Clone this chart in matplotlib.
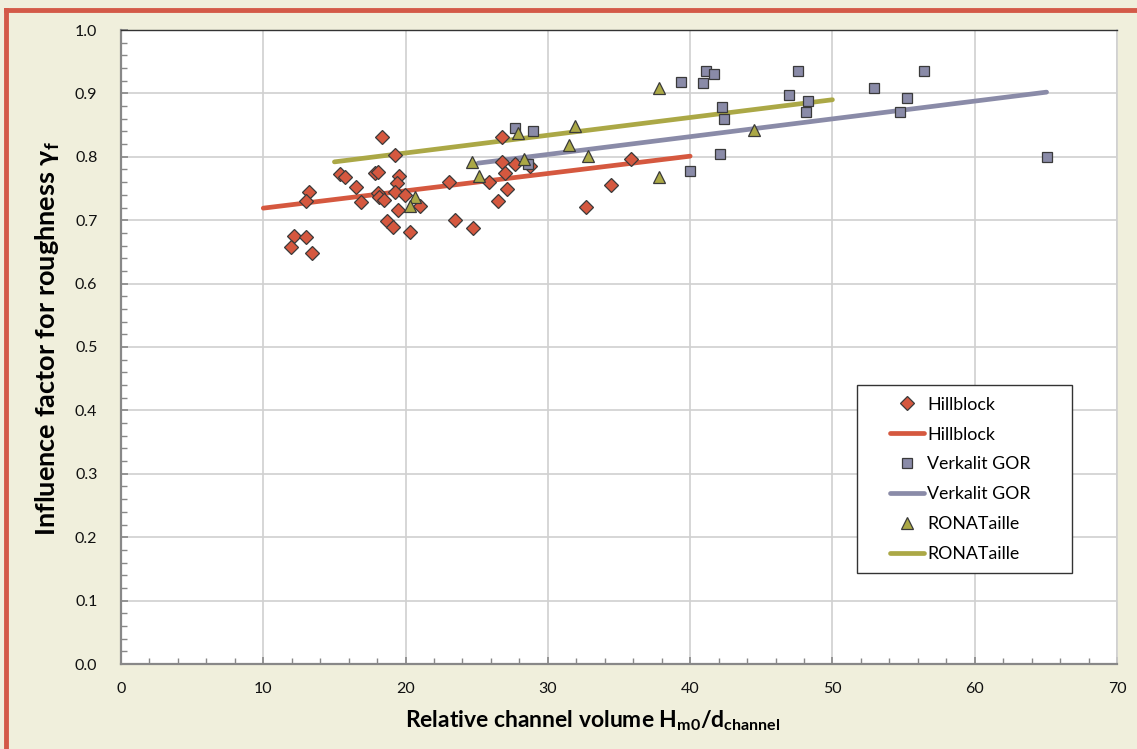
import matplotlib.pyplot as plt
from matplotlib.lines import Line2D
from matplotlib.patches import Rectangle
from matplotlib.ticker import MultipleLocator

plt.rcParams['font.family'] = ['Lato', 'DejaVu Sans']
plt.rcParams['mathtext.fontset'] = 'custom'
plt.rcParams['mathtext.rm'] = 'Lato'
plt.rcParams['mathtext.bf'] = 'Lato:bold'

# Hillblock measurements
hill_x = [18.36, 19.29, 15.38, 15.75, 17.85, 18.05, 16.53, 13.2, 13.01, 16.9,
          19.57, 19.39, 18.03, 19.29, 19.95, 18.16, 18.5, 19.5, 21.03, 18.68,
          19.1, 20.32, 12.17, 13.01, 11.95, 13.41, 26.81, 23.07, 26.81, 27.66,
          28.76, 27.0, 25.83, 27.12, 26.51, 23.49, 24.73, 35.86, 34.41, 32.65]
hill_y = [0.832, 0.803, 0.773, 0.768, 0.775, 0.776, 0.753, 0.745, 0.730, 0.728,
          0.769, 0.759, 0.743, 0.744, 0.740, 0.736, 0.732, 0.716, 0.723, 0.699,
          0.690, 0.681, 0.675, 0.674, 0.658, 0.649, 0.831, 0.761, 0.792, 0.788,
          0.786, 0.775, 0.761, 0.749, 0.730, 0.700, 0.687, 0.797, 0.756, 0.721]
hill_fit_x = [10, 40]
hill_fit_y = [0.719, 0.801]

# Verkalit GOR measurements
verk_x = [27.68, 28.93, 28.6, 39.38, 40.9, 41.09, 41.7, 42.24, 42.38, 42.12,
          39.99, 47.56, 46.95, 48.29, 48.15, 52.93, 55.27, 54.76, 56.45, 65.05]
verk_y = [0.846, 0.841, 0.789, 0.918, 0.917, 0.936, 0.931, 0.879, 0.859, 0.804,
          0.778, 0.936, 0.898, 0.888, 0.870, 0.908, 0.893, 0.871, 0.936, 0.800]
verk_fit_x = [25.1, 65.05]
verk_fit_y = [0.790, 0.902]

# RONATaille measurements
rona_x = [24.66, 25.18, 27.9, 28.34, 31.93, 31.48, 32.82, 37.78, 37.78, 44.51,
          20.67, 20.28]
rona_y = [0.792, 0.770, 0.838, 0.796, 0.849, 0.818, 0.801, 0.908, 0.768, 0.842,
          0.737, 0.723]
rona_fit_x = [15, 50]
rona_fit_y = [0.792, 0.890]

c_hill = '#D5583F'
c_verk = '#8A8BA8'
c_rona = '#ABA846'
edge = '#3a3a3a'

fig = plt.figure(figsize=(11.37, 7.49), dpi=100, facecolor='#F0EFDC')
ax = fig.add_axes([121 / 1137, 85 / 749, 996 / 1137, 634 / 749])
ax.set_facecolor('white')

# red frame on top and left edge of the figure
fig.add_artist(Line2D([0.0055, 0.0055], [0, 0.987], transform=fig.transFigure,
                      color='#D35A48', lw=3.5))
fig.add_artist(Line2D([0.0055, 1.0], [0.987, 0.987], transform=fig.transFigure,
                      color='#D35A48', lw=3.5))

ax.plot(hill_fit_x, hill_fit_y, color=c_hill, lw=3.4, solid_capstyle='round', zorder=2)
ax.plot(verk_fit_x, verk_fit_y, color=c_verk, lw=3.4, solid_capstyle='round', zorder=2)
ax.plot(rona_fit_x, rona_fit_y, color=c_rona, lw=3.4, solid_capstyle='round', zorder=2)

ax.plot(hill_x, hill_y, 'D', ms=7.6, color=c_hill, mec=edge, mew=0.9, zorder=3)
ax.plot(verk_x, verk_y, 's', ms=7.0, color=c_verk, mec=edge, mew=0.9, zorder=3)
ax.plot(rona_x, rona_y, '^', ms=8.8, color=c_rona, mec=edge, mew=0.9, zorder=3)

ax.set_xlim(0, 70)
ax.set_ylim(0, 1.0)
ax.xaxis.set_major_locator(MultipleLocator(10))
ax.xaxis.set_minor_locator(MultipleLocator(2))
ax.yaxis.set_major_locator(MultipleLocator(0.1))
ax.yaxis.set_minor_locator(MultipleLocator(0.02))
ax.yaxis.set_major_formatter(plt.FuncFormatter(lambda v, p: f'{v:.1f}'))
ax.grid(True, which='major', color='#D0D0D0', lw=1.2, zorder=0)
ax.set_axisbelow(True)
ax.tick_params(which='both', direction='in', color='#888888', labelsize=11.5,
               labelcolor='#111111', top=False, right=False)
ax.tick_params(which='major', length=5, width=1.2, pad=13)
ax.tick_params(which='minor', length=4, width=1.0)
ax.tick_params(axis='y', pad=17)
for side in ['left', 'bottom']:
    ax.spines[side].set_color('#888888')
    ax.spines[side].set_linewidth(1.6)
ax.spines['top'].set_color('#333333')
ax.spines['top'].set_linewidth(1.0)
ax.spines['right'].set_color('#D0D0D0')
ax.spines['right'].set_linewidth(1.2)

ax.set_xlabel(r'Relative channel volume $\mathbf{H_{m0}/d_{channel}}$',
              fontsize=16.5, fontweight='bold', labelpad=9)
ax.set_ylabel(r'Influence factor for roughness $\mathbf{\gamma_f}$',
              fontsize=19.5, fontweight='bold', labelpad=9)
ax.xaxis.label.set_x(0.474)
ax.yaxis.label.set_y(0.513)

# legend: box drawn separately so side padding can differ from top padding
ax.add_patch(Rectangle((0.739, 0.1435), 0.216, 0.2965, transform=ax.transAxes,
                       facecolor='white', edgecolor='#333333', lw=1.0, zorder=4))
handles = [
    Line2D([], [], ls='none', marker='D', ms=7, color=c_hill, mec=edge, mew=0.9),
    Line2D([], [], color=c_hill, lw=3.4, solid_capstyle='round'),
    Line2D([], [], ls='none', marker='s', ms=6.5, color=c_verk, mec=edge, mew=0.9),
    Line2D([], [], color=c_verk, lw=3.4, solid_capstyle='round'),
    Line2D([], [], ls='none', marker='^', ms=8, color=c_rona, mec=edge, mew=0.9),
    Line2D([], [], color=c_rona, lw=3.4, solid_capstyle='round'),
]
labels = ['Hillblock', 'Hillblock', 'Verkalit GOR', 'Verkalit GOR',
          'RONATaille', 'RONATaille']
leg = ax.legend(handles, labels, loc='upper left',
                bbox_to_anchor=((890 - 121) / 996, 0.4216),
                fontsize=12.8, frameon=False, labelspacing=0.78,
                handlelength=1.9, handletextpad=0.2, borderpad=0,
                borderaxespad=0)
leg.set_zorder(5)

fig.savefig('out.png', dpi=100, facecolor=fig.get_facecolor())
